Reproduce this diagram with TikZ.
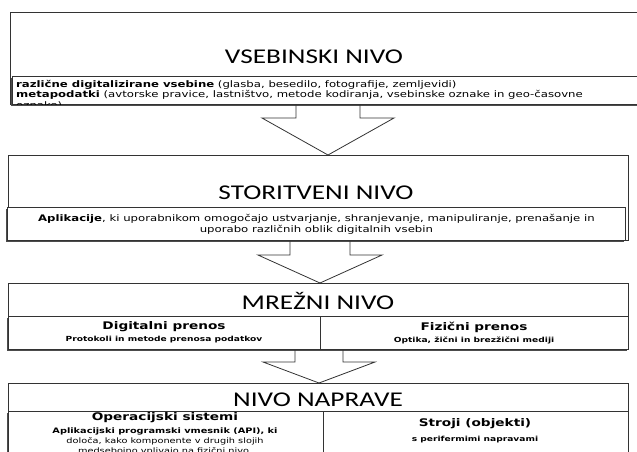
\documentclass[tikz,border=0pt]{standalone}
\usepackage{fontspec}
\setmainfont[FakeStretch=1.3]{DejaVu Sans}
\newfontfamily\titlefont[FakeStretch=1.3]{Carlito}
\usetikzlibrary{calc,shadows}

\tikzset{
  layerbox/.style={draw=black!80, line width=0.8pt, inner sep=0pt, anchor=north west},
  descbox/.style={draw=black!80, line width=0.8pt, fill=white, inner sep=0pt, anchor=north west,
    drop shadow={shadow xshift=-1.5pt, shadow yshift=-1.5pt, fill=black!70, opacity=1}},
  layertitle/.style={font=\titlefont\fontsize{21}{25}\selectfont},
  colhead/.style={font=\bfseries\fontsize{10.5}{12}\selectfont},
  coltext/.style={font=\bfseries\fontsize{7}{9}\selectfont},
  blockarrow/.style={draw=black!80, line width=0.8pt},
}
% block arrow: top point, target, shaft half width, head half width, shaft length
\newcommand{\layerarrow}[5]{%
  \draw[blockarrow] ($(#1)+(-#3,0)$) -- ($(#1)+(-#3,#5)$) -- ($(#1)+(-#4,#5)$)
    -- (#1 |- #2) -- ($(#1)+(#4,#5)$) -- ($(#1)+(#3,#5)$) -- ($(#1)+(#3,0)$);}

\begin{document}
\begin{tikzpicture}[x=1pt,y=-1pt]
\useasboundingbox (0,0) rectangle (637,451);
\clip (0,0) rectangle (637,451);
% vsebinski nivo
\node[layerbox, minimum width=640pt, minimum height=92pt] (vseb) at (10,12) {};
\node[layertitle] (vsebtitle) at (314,57) {VSEBINSKI NIVO};
\node[descbox, minimum width=640pt, minimum height=28pt] (vsebdesc) at (12,76) {};
\begin{scope}
\clip (vsebdesc.north west) rectangle (vsebdesc.south east);
\node[anchor=north west, align=left, inner sep=0pt, font=\fontsize{9}{10.5}\selectfont] (vsebtext) at (16,80) {%
\textbf{različne digitalizirane vsebine} (glasba, besedilo, fotografije, zemljevidi)\\
\textbf{metapodatki} (avtorske pravice, lastništvo, metode kodiranja, vsebinske oznake in geo-časovne\\
oznake)};
\end{scope}
\coordinate (a1) at (328,104);
% storitveni nivo
\node[layerbox, minimum width=620pt, minimum height=85pt] (stor) at (8,155) {};
\node[layertitle] (stortitle) at (316,193) {STORITVENI NIVO};
\node[descbox, minimum width=618pt, minimum height=33pt, align=center,
  font=\fontsize{9}{11}\selectfont] (stordesc) at (7,207) {%
\textbf{Aplikacije}, ki uporabnikom omogočajo ustvarjanje, shranjevanje, manipuliranje, prenašanje in\\
uporabo različnih oblik digitalnih vsebin};
\coordinate (a2) at (320,240);
% mrezni nivo
\node[layerbox, minimum width=620pt, minimum height=66pt] (mrez) at (8,283) {};
\node[layertitle] (mreztitle) at (318,301) {MREŽNI NIVO};
\node[descbox, minimum width=620pt, minimum height=33pt] (mrezrow) at (8,316) {};
\coordinate (mrezsplit) at (320,316);
\draw[blockarrow] (mrezsplit) -- (mrezsplit |- mrezrow.south);
\node[colhead] (digihead) at (164,327) {Digitalni prenos};
\node[coltext] (digitext) at (164,340) {Protokoli in metode prenosa podatkov};
\node[colhead] (fizhead) at (474,327) {Fizični prenos};
\node[coltext] (fiztext) at (474,340) {Optika, žični in brezžični mediji};
\coordinate (a3) at (319,349);
% nivo naprave
\node[layerbox, minimum width=620pt, minimum height=80pt] (napr) at (8,383) {};
\node[layertitle] (naprtitle) at (318,400) {NIVO NAPRAVE};
\node[descbox, minimum width=620pt, minimum height=50pt] (naprrow) at (8,411) {};
\coordinate (naprsplit) at (323,411);
\draw[blockarrow] (naprsplit) -- (naprsplit |- naprrow.south);
\node[colhead] (ophead) at (165,418) {Operacijski sistemi};
\node[align=center, font=\fontsize{7.5}{10}\selectfont] (optext) at (165,441) {%
\textbf{Aplikacijski programski vmesnik (API), ki}\\
določa, kako komponente v drugih slojih\\
medsebojno vplivajo na fizični nivo.};
\node[colhead] (strohead) at (475,424) {Stroji (objekti)};
\node[coltext] (strotext) at (475,440) {s perifermimi napravami};
% arrows between the levels
\layerarrow{a1}{stor.north}{32}{66}{14}
\layerarrow{a2}{mrez.north}{30}{62}{15}
\layerarrow{a3}{napr.north}{24}{56}{13}
\end{tikzpicture}
\end{document}
